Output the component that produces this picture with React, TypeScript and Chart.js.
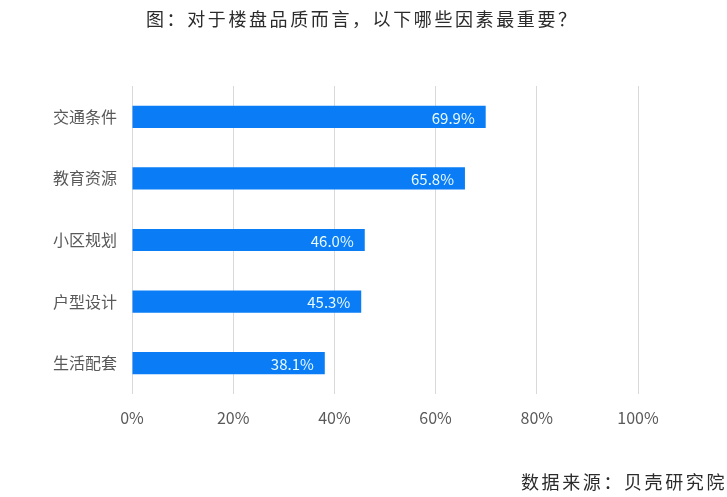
import { Chart, registerables } from 'chart.js'
import { useEffect, useRef } from 'react'

Chart.register(...registerables)

const titleText = '图：对于楼盘品质而言，以下哪些因素最重要？'
const sourceText = '数据来源：贝壳研究院'
const categories = ['交通条件', '教育资源', '小区规划', '户型设计', '生活配套']
const shares = [69.9, 65.8, 46.0, 45.3, 38.1]

const CJK = '"Noto Sans CJK SC", "Noto Sans", sans-serif'

// labels at the end of each bar + title / source text
const textPlugin = {
  id: 'textPlugin',
  afterDatasetsDraw(chart: any) {
    const ctx = chart.ctx
    const meta = chart.getDatasetMeta(0)
    ctx.save()
    ctx.font = `15px ${CJK}`
    ctx.fillStyle = '#e8fbff'
    ctx.textAlign = 'right'
    ctx.textBaseline = 'middle'
    meta.data.forEach((bar: any, i: number) => {
      ctx.fillText(shares[i].toFixed(1) + '%', bar.x - 11, bar.y + 1)
    })
    ctx.restore()
  },
  afterDraw(chart: any) {
    const ctx = chart.ctx
    ctx.save()
    ctx.textBaseline = 'middle'
    ctx.font = `18px ${CJK}`
    ;(ctx as any).letterSpacing = '2.6px'
    ctx.fillStyle = '#2b2b2b'
    ctx.textAlign = 'left'
    ctx.fillText(titleText, 146, 19)
    ctx.textAlign = 'right'
    ctx.fillText(sourceText, 727, 482)
    ctx.restore()
  },
}

export default function App() {
  const canvasRef = useRef<HTMLCanvasElement>(null)
  const chartRef = useRef<Chart | null>(null)

  useEffect(() => {
    document.body.style.margin = '0'
    if (!canvasRef.current) return
    if (chartRef.current) chartRef.current.destroy()

    chartRef.current = new Chart(canvasRef.current, {
      type: 'bar',
      data: {
        labels: categories,
        datasets: [
          {
            data: shares,
            backgroundColor: '#0A7CF6',
            barPercentage: 0.36,
            categoryPercentage: 1,
          },
        ],
      },
      options: {
        indexAxis: 'y',
        animation: false,
        responsive: false,
        layout: { padding: { top: 86, right: 89, bottom: 0, left: 0 } },
        scales: {
          x: {
            min: 0,
            max: 100,
            ticks: {
              stepSize: 20,
              padding: 14,
              color: '#595959',
              font: { family: CJK, size: 16 },
              callback: (v: any) => v + '%',
            },
            grid: { color: '#d9d9d9', drawTicks: false },
            border: { display: false },
            afterFit: (s: any) => {
              s.height = 103
            },
          },
          y: {
            ticks: {
              padding: 15,
              color: '#595959',
              font: { family: CJK, size: 16 },
            },
            grid: { display: false, drawTicks: false },
            border: { display: false },
            afterFit: (s: any) => {
              s.width = 132
            },
          },
        },
        plugins: {
          legend: { display: false },
          tooltip: { enabled: false },
        },
      },
      plugins: [textPlugin],
    })

    return () => {
      if (chartRef.current) {
        chartRef.current.destroy()
        chartRef.current = null
      }
    }
  }, [])

  return (
    <div style={{ width: 727, height: 497, background: '#fff' }}>
      <canvas ref={canvasRef} width={727} height={497}></canvas>
    </div>
  )
}
